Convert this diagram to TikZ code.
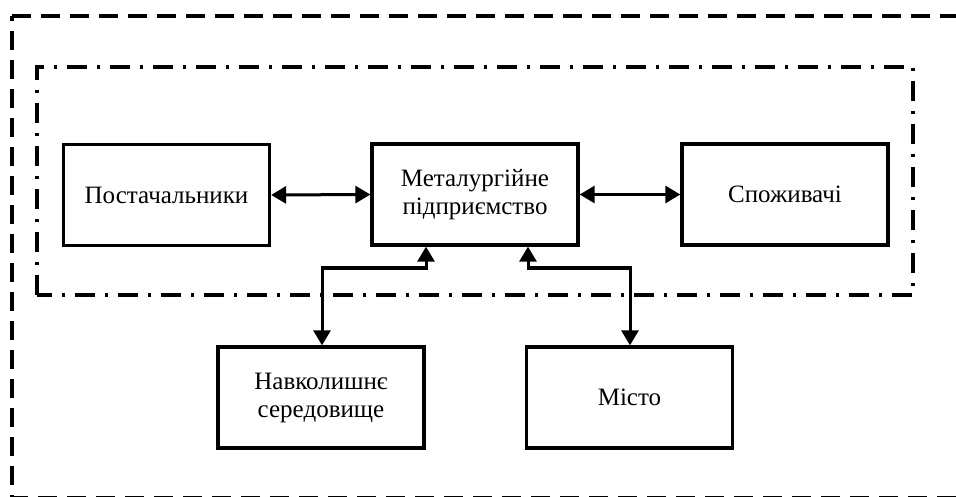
\documentclass[tikz,border=0pt]{standalone}
\usepackage{fontspec}
\setmainfont{Liberation Serif}
\usetikzlibrary{arrows.meta}
\begin{document}
\begin{tikzpicture}[x=1pt,y=-1pt,
  blk/.style={draw,line width=3.3pt,minimum width=206pt,minimum height=101pt,inner sep=0pt,align=center,font=\fontsize{25}{28}\selectfont},
  conn/.style={line width=3pt,{Triangle[length=15pt,width=17pt]}-{Triangle[length=15pt,width=17pt]}},
  outerdash/.style={line width=3.3pt,dash pattern=on 19pt off 10pt},
  innerdash/.style={line width=3.3pt,dash pattern=on 20pt off 10pt on 3pt off 10pt}]
\useasboundingbox (0,0) rectangle (956,497);
\clip (0,0) rectangle (956,497);
\draw[outerdash] (12,16) -- (970,16);
\draw[outerdash,dash phase=14pt] (12,16) -- (12,498) -- (970,498);
\draw[innerdash] (37,295) -- (37,67) -- (913,67) -- (913,295) -- cycle;
\node[blk] (post) at (166.5,195) {Постачальники};
\node[blk] (met) at (475,194.5) {Металургійне\\підприємство};
\node[blk] (spo) at (785,194.5) {Споживачі};
\node[blk] (nav) at (321,397.5) {Навколишнє\\середовище};
\node[blk] (mis) at (629.5,397.5) {Місто};
\coordinate (j1) at (426,268);
\coordinate (j2) at (322,268);
\coordinate (k1) at (528,268);
\coordinate (k2) at (630,268);
\draw[conn] (post.east) -- (met.west);
\draw[conn] (met.east) -- (spo.west);
\draw[conn] (met.south -| j1) -- (j1) -- (j2) -- (nav.north -| j2);
\draw[conn] (met.south -| k1) -- (k1) -- (k2) -- (mis.north -| k2);
\end{tikzpicture}
\end{document}
